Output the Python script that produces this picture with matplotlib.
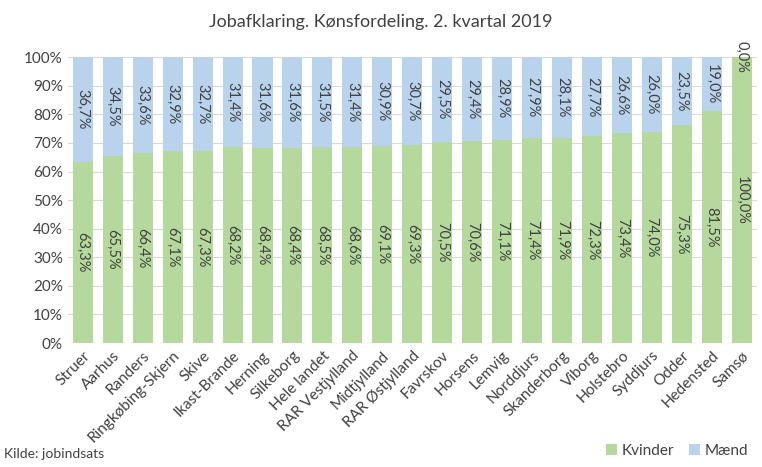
import matplotlib
matplotlib.use("Agg")
import matplotlib.pyplot as plt
import numpy as np

categories = ["Struer", "Aarhus", "Randers", "Ringkøbing-Skjern", "Skive", "Ikast-Brande",
              "Herning", "Silkeborg", "Hele landet", "RAR Vestjylland", "Midtjylland",
              "RAR Østjylland", "Favrskov", "Horsens", "Lemvig", "Norddjurs", "Skanderborg",
              "Viborg", "Holstebro", "Syddjurs", "Odder", "Hedensted", "Samsø"]
kvinder = [63.3, 65.5, 66.4, 67.1, 67.3, 68.2, 68.4, 68.4, 68.5, 68.6, 69.1, 69.3,
           70.5, 70.6, 71.1, 71.4, 71.9, 72.3, 73.4, 74.0, 75.3, 81.5, 100.0]
maend = [36.7, 34.5, 33.6, 32.9, 32.7, 31.4, 31.6, 31.6, 31.5, 31.4, 30.9, 30.7,
         29.5, 29.4, 28.9, 27.9, 28.1, 27.7, 26.6, 26.0, 23.5, 19.0, 0.0]
yticks = list(range(0, 101, 10))

plt.rcParams['font.family'] = ['Lato', 'DejaVu Sans']
green = '#b5d99c'
blue = '#b9d3ec'
txt = '#404040'

# 100 % stacked: normalise each bar to its total
k_arr = np.array(kvinder)
m_arr = np.array(maend)
tot = k_arr + m_arr
k_h = k_arr / tot * 100
m_h = m_arr / tot * 100

fig = plt.figure(figsize=(7.62, 4.67), dpi=100)
ax = fig.add_axes([0.089, 0.2655, 0.904, 0.612])
x = np.arange(len(categories))
w = 0.67
b1 = ax.bar(x, k_h, width=w, color=green, label='Kvinder', zorder=2)
b2 = ax.bar(x, m_h, width=w, bottom=k_h, color=blue, label='Mænd', zorder=2)

fmt = lambda v: f"{v:.1f}".replace('.', ',') + '%'
for xi, k, m, kh, mh in zip(x, kvinder, maend, k_h, m_h):
    ax.text(xi, kh / 2, fmt(k), rotation=-90, ha='center', va='center', fontsize=10.5, color=txt, zorder=3)
    ax.text(xi, kh + mh / 2, fmt(m), rotation=-90, ha='center', va='center', fontsize=10.5, color=txt, zorder=3)

ax.set_xlim(-0.5, len(categories) - 0.5)
ax.set_ylim(0, 100)
ax.set_yticks(yticks)
ax.set_yticklabels([f"{t}%" for t in yticks], fontsize=11, color=txt)
ax.yaxis.grid(True, color='#d9d9d9', linewidth=0.8, zorder=0)
ax.set_axisbelow(True)
ax.set_xticks(x)
ax.set_xticklabels(categories, rotation=45, ha='right', rotation_mode='anchor', fontsize=11, color=txt)
ax.tick_params(axis='both', length=0)
ax.tick_params(axis='x', pad=4)
for s in ax.spines.values():
    s.set_visible(False)

fig.text(0.5, 0.952, "Jobafklaring. Kønsfordeling. 2. kvartal 2019", ha='center', va='center',
         fontsize=13, color=txt)
fig.text(0.005, 0.015, "Kilde: jobindsats", ha='left', va='bottom', fontsize=10, color=txt)
fig.legend(handles=[b1, b2], labels=['Kvinder', 'Mænd'], loc='lower right',
           bbox_to_anchor=(1.0, -0.01), ncol=2, frameon=False, fontsize=11,
           handlelength=0.7, handleheight=0.7, handletextpad=0.3, columnspacing=1.0,
           labelcolor=txt)
fig.savefig('out.png', dpi=100)
